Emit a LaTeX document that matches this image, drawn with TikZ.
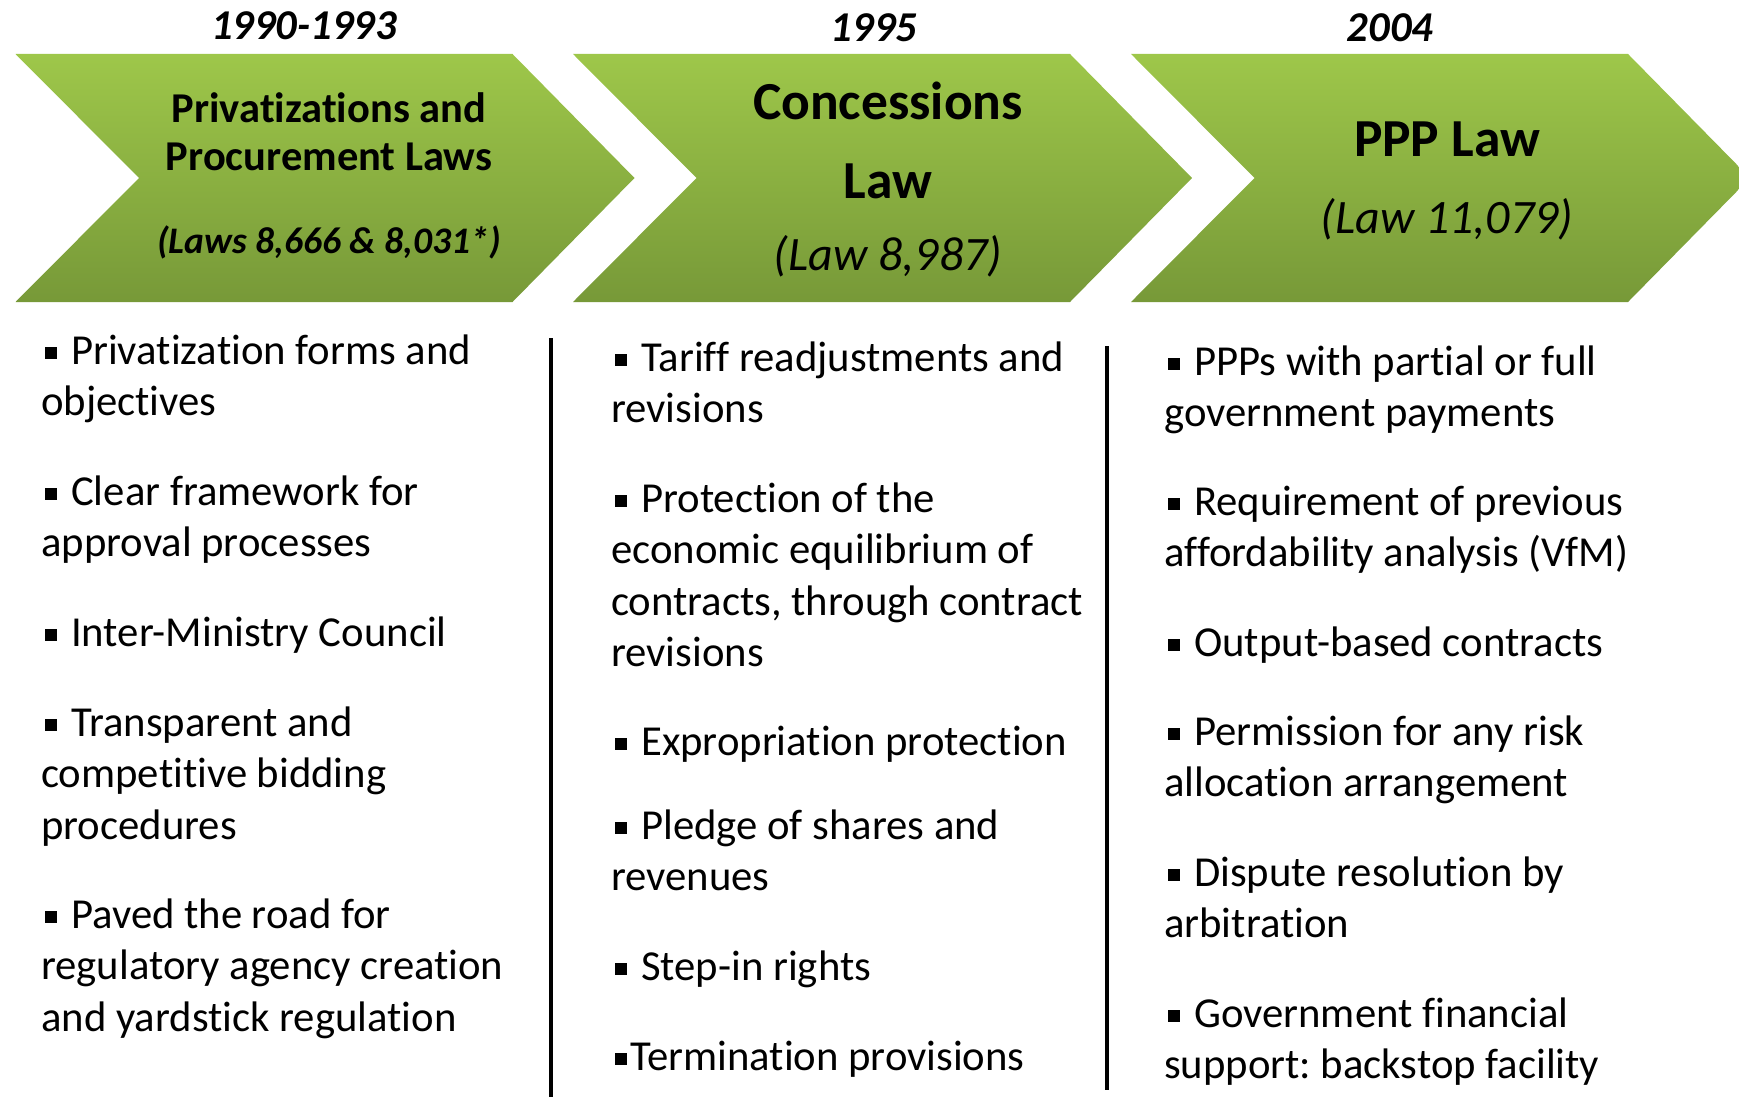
\documentclass[tikz,border=0pt]{standalone}
\usepackage{fontspec}
\setmainfont{Carlito}[Ligatures=NoCommon]
\frenchspacing
\definecolor{gtop}{RGB}{158,199,74}
\definecolor{gbot}{RGB}{119,153,56}
\newcommand\bul{\hspace*{4pt}\rule[5pt]{12pt}{12pt}\hspace*{14pt}}
\newcommand\bult{\hspace*{4pt}\rule[5pt]{12pt}{12pt}\hspace*{3pt}}
\newcommand\blist[1]{\vtop{\baselineskip=51.5pt\lineskiplimit=-100pt\halign{##\hfil\cr#1\crcr}}}
\tikzset{
  chev/.style={top color=gtop, bottom color=gbot, draw=none},
  yeartxt/.style={anchor=base, inner sep=0pt, font=\fontsize{42.5}{42.5}\selectfont\bfseries\itshape},
  hdrA/.style={anchor=base, inner sep=0pt, font=\fontsize{42.5}{42.5}\selectfont\bfseries},
  hdrAi/.style={anchor=base, inner sep=0pt, font=\fontsize{37.5}{37.5}\selectfont\bfseries\itshape},
  hdrB/.style={anchor=base, inner sep=0pt, font=\fontsize{53.5}{53.5}\selectfont\bfseries},
  hdrBi/.style={anchor=base, inner sep=0pt, font=\fontsize{48}{48}\selectfont\itshape},
  item/.style={anchor=base west, inner sep=0pt, font=\fontsize{42.7}{51.5}\selectfont},
  sepline/.style={line width=3.5pt, black},
}
\begin{document}
\begin{tikzpicture}[x=1pt,y=-1pt]
\useasboundingbox (0,0) rectangle (1739,1097);
\clip (0,0) rectangle (1739,1097);
% chevrons
\foreach \x in {15.5,573,1131}{
  \shade[chev] (\x,54) -- ++(497,0) -- ++(122,124) -- ++(-122,124) -- ++(-497,0) -- ++(123.5,-124) -- cycle;
}
% years
\node[yeartxt] (y1) at (304,40) {1990-1993};
\node[yeartxt] (y2) at (874,42) {1995};
\node[yeartxt] (y3) at (1390,42) {2004};
% headers
\node[hdrA] (h1a) at (329,123) {Privatizations and};
\node[hdrA] (h1b) at (329,170) {Procurement Laws};
\node[hdrAi] (h1c) at (329,253) {(Laws 8,666 \& 8,031*)};
\node[hdrB] (h2a) at (888,120) {Concessions};
\node[hdrB] (h2b) at (888,198) {Law};
\node[hdrBi] (h2c) at (888,270) {(Law 8,987)};
\node[hdrB] (h3a) at (1447,156) {PPP Law};
\node[hdrBi] (h3c) at (1447,233) {(Law 11,079)};
% separators
\draw[sepline] (551,338) -- (551,1097);
\draw[sepline] (1107,346) -- (1107,1090);
% column 1
\node[item] (a1) at (41,364) {\blist{\bul Privatization forms and\cr objectives}};
\node[item] (a2) at (41,505) {\blist{\bul Clear framework for\cr approval processes}};
\node[item] (a3) at (41,646) {\blist{\bul Inter-Ministry Council}};
\node[item] (a4) at (41,736) {\blist{\bul Transparent and\cr competitive bidding\cr procedures}};
\node[item] (a5) at (41,928) {\blist{\bul Paved the road for\cr regulatory agency creation\cr and yardstick regulation}};
% column 2
\node[item] (b1) at (611,371) {\blist{\bul Tariff readjustments and\cr revisions}};
\node[item] (b2) at (611,512) {\blist{\bul Protection of the\cr economic equilibrium of\cr contracts, through contract\cr revisions}};
\node[item] (b3) at (611,755) {\blist{\bul Expropriation protection}};
\node[item] (b4) at (611,839) {\blist{\bul Pledge of shares and\cr revenues}};
\node[item] (b5) at (611,980) {\blist{\bul Step-in rights}};
\node[item] (b6) at (611,1070) {\blist{\bult Termination provisions}};
% column 3
\node[item] (c1) at (1164,375) {\blist{\bul PPPs with partial or full\cr government payments}};
\node[item] (c2) at (1164,515) {\blist{\bul Requirement of previous\cr affordability analysis (VfM)}};
\node[item] (c3) at (1164,656) {\blist{\bul Output-based contracts}};
\node[item] (c4) at (1164,745) {\blist{\bul Permission for any risk\cr allocation arrangement}};
\node[item] (c5) at (1164,886) {\blist{\bul Dispute resolution by\cr arbitration}};
\node[item] (c6) at (1164,1027) {\blist{\bul Government financial\cr support: backstop facility}};
\end{tikzpicture}
\end{document}
